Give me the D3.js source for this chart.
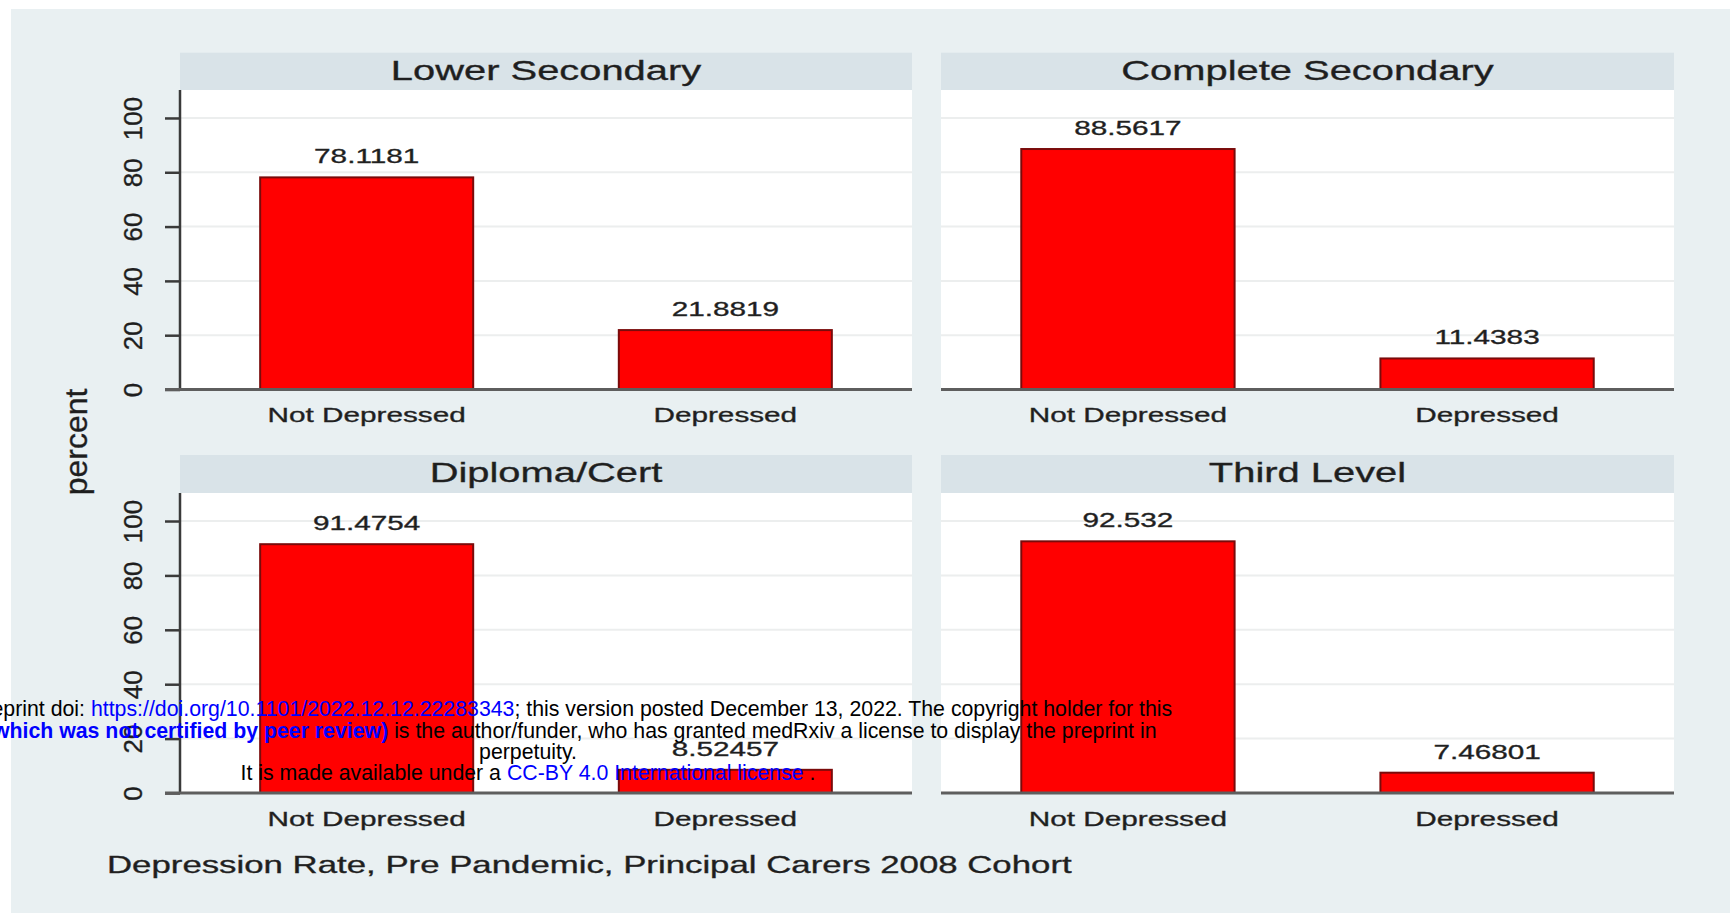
<!DOCTYPE html>
<html>
<head>
<meta charset="utf-8">
<script src="https://cdn.jsdelivr.net/npm/d3@7"></script>
<style>
  body { margin: 0; background: #fff; }
  svg { display: block; }
  text { font-family: "Liberation Sans", Arial, Helvetica, sans-serif; }
  .ink { stroke: #2a2a2a; stroke-width: 0.35; }
</style>
</head>
<body>
<script>
// data
var panels = ["Lower Secondary", "Complete Secondary", "Diploma/Cert", "Third Level"];
var categories = ["Not Depressed", "Depressed"];
var notDepressed = [78.1181, 88.5617, 91.4754, 92.532];
var depressed = [21.8819, 11.4383, 8.52457, 7.46801];
var yTicks = [0, 20, 40, 60, 80, 100];
var yTitle = "percent";
var caption = "Depression Rate, Pre Pandemic, Principal Carers 2008 Cohort";

var W = 1730, H = 913;
var SX = 1.45; // the source image is stretched sideways, so is its horizontal text

var colX0 = [180, 941], colX1 = [912, 1674];
var stripTop = [52.7, 455], plotTop = [90, 493], plotBottom = [389.5, 793];

var svg = d3.select("body").append("svg")
	.attr("width", W)
	.attr("height", H);

svg.append("rect").attr("x", 11).attr("y", 9)
	.attr("width", W - 11).attr("height", H - 9)
	.attr("fill", "#e9f0f2");

var fmt = d3.format(".6~g");

function stretched(g, x, y, str, size) {
	return g.append("text")
		.attr("class", "ink")
		.attr("transform", "translate(" + x + "," + y + ") scale(" + SX + ",1)")
		.attr("text-anchor", "middle")
		.attr("font-size", size)
		.attr("fill", "#1e1e1e")
		.text(str);
}

panels.forEach(function(name, i) {
	var col = i % 2, row = Math.floor(i / 2);
	var x0 = colX0[col], x1 = colX1[col];
	var g = svg.append("g");

	var x = d3.scaleBand().domain(categories).range([x0, x1])
		.paddingInner(0.406).paddingOuter(0.2235);
	var y = d3.scaleLinear().domain([0, 110.3]).range([plotBottom[row], plotTop[row]]);

	// strip
	g.append("rect").attr("x", x0).attr("y", stripTop[row])
		.attr("width", x1 - x0).attr("height", plotTop[row] - stripTop[row])
		.attr("fill", "#d9e3e8");
	stretched(g, (x0 + x1) / 2, stripTop[row] + 27, name, 27.5);

	// plot area
	g.append("rect").attr("x", x0).attr("y", plotTop[row])
		.attr("width", x1 - x0).attr("height", plotBottom[row] - plotTop[row])
		.attr("fill", "#ffffff");

	// grid
	g.selectAll(".grid").data(yTicks.filter(function(t){ return t > 0; }))
		.enter().append("line")
		.attr("x1", x0).attr("x2", x1)
		.attr("y1", function(t){ return y(t); })
		.attr("y2", function(t){ return y(t); })
		.attr("stroke", "#eceeee").attr("stroke-width", 2);

	// bars
	var vals = [notDepressed[i], depressed[i]];
	g.selectAll(".bar").data(vals).enter().append("rect")
		.attr("x", function(d, j){ return x(categories[j]); })
		.attr("y", function(d){ return y(d); })
		.attr("width", x.bandwidth())
		.attr("height", function(d){ return y(0) - y(d); })
		.attr("fill", "#ff0000")
		.attr("stroke", "#7a0b0b").attr("stroke-width", 2);

	vals.forEach(function(d, j) {
		stretched(g, x(categories[j]) + x.bandwidth() / 2, y(d) - 14, fmt(d), 20.5);
		stretched(g, x(categories[j]) + x.bandwidth() / 2, plotBottom[row] + 32.5, categories[j], 20.5);
	});

	// axes
	if (col === 0) {
		var yAxis = d3.axisLeft(y).tickValues(yTicks).tickSize(15).tickFormat(d3.format("d"));
		var ax = g.append("g").attr("transform", "translate(" + x0 + ",0)").call(yAxis);
		ax.select(".domain").remove();
		ax.selectAll(".tick line").attr("stroke", "#3a3a3a").attr("stroke-width", 2.5);
		ax.selectAll(".tick text")
			.attr("class", "ink")
			.attr("font-size", 26)
			.attr("fill", "#1e1e1e")
			.attr("font-family", "Liberation Sans, Arial, sans-serif")
			.attr("text-anchor", "middle")
			.attr("dy", null)
			.attr("x", null)
			.attr("transform", "translate(-38,0) rotate(-90)");
		g.append("line").attr("x1", x0).attr("x2", x0)
			.attr("y1", plotTop[row]).attr("y2", plotBottom[row])
			.attr("stroke", "#3a3a3a").attr("stroke-width", 2.5);
	}
	g.append("line")
		.attr("x1", col === 0 ? x0 - 15 : x0).attr("x2", x1)
		.attr("y1", y(0)).attr("y2", y(0))
		.attr("stroke", "#5e5e5e").attr("stroke-width", 3);
});

svg.append("text")
	.attr("class", "ink")
	.attr("transform", "translate(87,442) rotate(-90)")
	.attr("text-anchor", "middle")
	.attr("font-size", 32)
	.attr("fill", "#1e1e1e")
	.text(yTitle);

svg.append("text")
	.attr("class", "ink")
	.attr("transform", "translate(107,873) scale(" + SX + ",1)")
	.attr("font-size", 24)
	.attr("fill", "#1e1e1e")
	.text(caption);

// medRxiv watermark laid over the figure
var notice = [
	[["medRxiv preprint doi: ", "k"], ["https://doi.org/10.1101/2022.12.12.22283343", "b"], ["; this version posted December 13, 2022. The copyright holder for this", "k"]],
	[["preprint (which was not certified by peer review)", "bb"], [" is the author/funder, who has granted medRxiv a license to display the preprint in", "k"]],
	[["perpetuity.", "k"]],
	[["It is made available under a ", "k"], ["CC-BY 4.0 International license", "b"], [" .", "k"]]
];
var lineY = [716, 737.5, 759, 780];
notice.forEach(function(parts, li) {
	var t = svg.append("text")
		.attr("x", 528).attr("y", lineY[li])
		.attr("text-anchor", "middle")
		.attr("font-size", 21.3)
		.attr("font-family", "Liberation Sans, Arial, sans-serif");
	parts.forEach(function(p) {
		t.append("tspan")
			.attr("fill", p[1] === "k" ? "#000" : "#0000ff")
			.attr("font-weight", p[1] === "bb" ? "bold" : "normal")
			.text(p[0]);
	});
});
</script>
</body>
</html>
